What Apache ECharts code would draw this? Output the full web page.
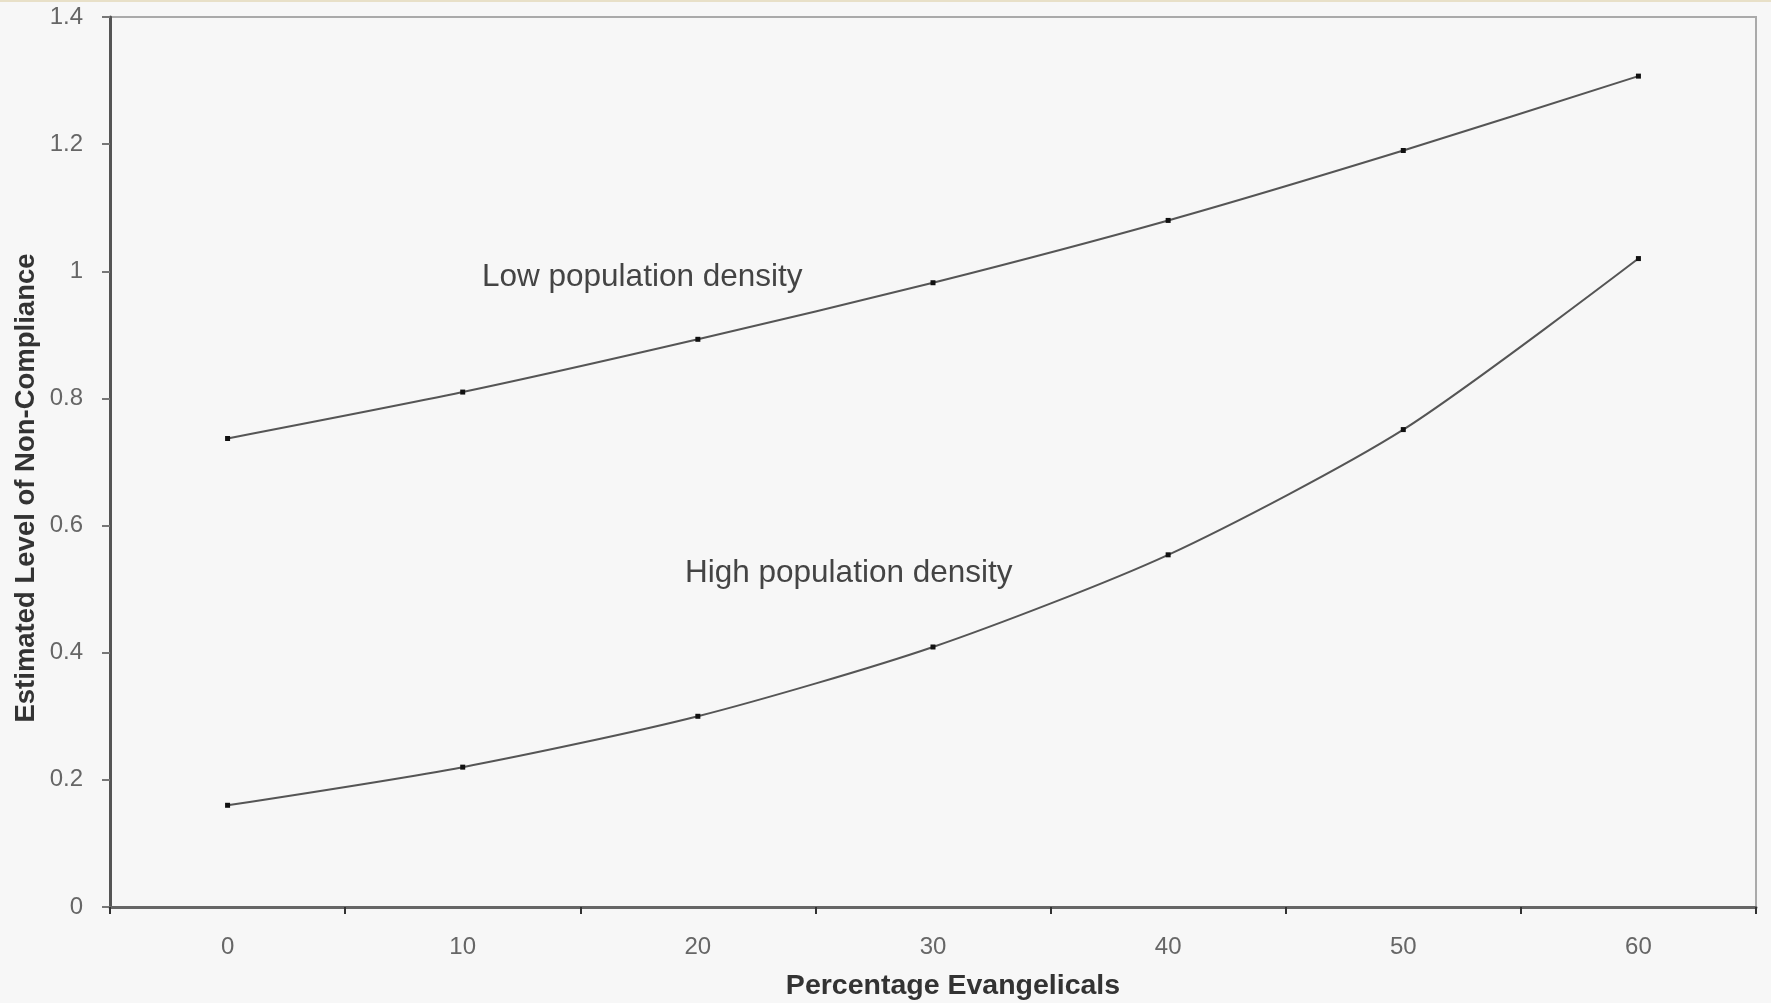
<!DOCTYPE html>
<html><head><meta charset="utf-8">
<script src="https://cdn.jsdelivr.net/npm/echarts@6/dist/echarts.min.js"></script>
<style>html,body{margin:0;padding:0;background:#f7f7f7;}#c{width:1771px;height:1003px;}</style>
</head><body><div id="c"></div>
<script>
const categories = ['0','10','20','30','40','50','60'];
const lowDensity = [0.737, 0.810, 0.893, 0.982, 1.080, 1.190, 1.307];
const highDensity = [0.160, 0.220, 0.300, 0.409, 0.554, 0.751, 1.020];
const yTicks = [0, 0.2, 0.4, 0.6, 0.8, 1, 1.2, 1.4];

const chart = echarts.init(document.getElementById('c'));
const font = '"Liberation Sans", Arial, sans-serif';
function lineSeries(name, data) {
  return {
    name: name, type: 'line', data: data, smooth: 0.25,
    symbol: 'rect', symbolSize: 5,
    itemStyle: { color: '#111' },
    lineStyle: { color: '#555', width: 2 },
    z: 3
  };
}
chart.setOption({
  backgroundColor: '#f7f7f7',
  animation: false,
  grid: { left: 110, right: 15, top: 17, bottom: 96, show: true, borderColor: '#aaa', borderWidth: 2, backgroundColor: 'transparent' },
  xAxis: {
    type: 'category', data: categories, boundaryGap: true,
    axisLine: { lineStyle: { color: '#666', width: 3 } },
    axisTick: { show: true, length: 7, lineStyle: { color: '#333', width: 2 } },
    axisLabel: { fontFamily: font, fontSize: 24, color: '#666', margin: 28 },
    splitLine: { show: false }
  },
  yAxis: {
    type: 'value', min: 0, max: 1.4, interval: 0.2,
    axisLine: { show: true, lineStyle: { color: '#555', width: 3 } },
    axisTick: { show: true, length: 8, lineStyle: { color: '#777', width: 2 } },
    axisLabel: { fontFamily: font, fontSize: 24, color: '#666', margin: 27,
      formatter: function (v) { const r = Math.round(v * 10) / 10; return yTicks.indexOf(r) >= 0 ? String(r) : ''; } },
    splitLine: { show: false }
  },
  series: [ lineSeries('Low population density', lowDensity), lineSeries('High population density', highDensity) ],
  graphic: [
    { type: 'rect', left: 0, top: 0, shape: { width: 1771, height: 2 }, style: { fill: '#e8e0c8' } },
    { type: 'text', x: 482, y: 277, style: { text: 'Low population density', font: '31.5px "Liberation Sans", Arial, sans-serif', fill: '#444', verticalAlign: 'middle' } },
    { type: 'text', x: 685, y: 573, style: { text: 'High population density', font: '31.5px "Liberation Sans", Arial, sans-serif', fill: '#444', verticalAlign: 'middle' } },
    { type: 'text', x: 953, y: 986, style: { text: 'Percentage Evangelicals', font: 'bold 28.5px "Liberation Sans", Arial, sans-serif', fill: '#333', align: 'center', verticalAlign: 'middle' } },
    { type: 'text', x: 26, y: 488, rotation: Math.PI / 2, style: { text: 'Estimated Level of Non-Compliance', font: 'bold 27.5px "Liberation Sans", Arial, sans-serif', fill: '#333', align: 'center', verticalAlign: 'middle' } }
  ]
});
</script></body></html>
